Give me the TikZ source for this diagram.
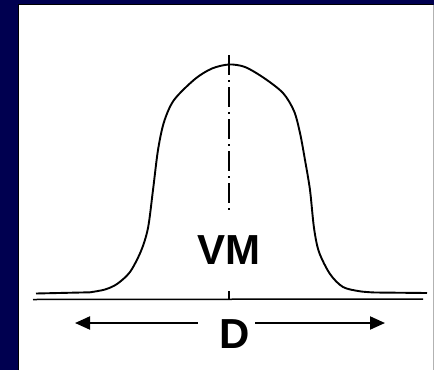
\documentclass[tikz,border=0pt]{standalone}
\usepackage{fontspec}
\setmainfont{Liberation Sans}
\usetikzlibrary{arrows.meta}
\definecolor{navy}{RGB}{0,0,80}
\tikzset{
  bigtext/.style={font=\fontsize{42}{42}\selectfont\bfseries, inner sep=2pt},
  centerline/.style={line width=1.3pt, dash pattern=on 20pt off 5pt on 2pt off 5pt},
  widtharrow/.style={line width=2pt, -{Triangle[length=15pt,width=13pt]}}
}
\begin{document}
\begin{tikzpicture}[x=1pt, y=-1pt]
  \useasboundingbox (0,0) rectangle (434,370);
  % Hintergrund
  \fill[navy] (0,0) rectangle (434,370);
  \fill[white] (19,5) rectangle (433,370);
  \draw[black, line width=1pt] (18.5,370) -- (18.5,4.5) -- (433,4.5);
  \draw[gray!60, line width=1pt] (433.5,5) -- (433.5,370);
  % Glockenkurve
  \draw[line width=1.9pt, line join=round]
    (36,293.5) -- (90,292.3)
    plot[smooth, tension=0.5] coordinates {(90,292.3) (105,289.5) (117,284) (130,272) (141,251)
      (148,228) (153,190) (158,150) (164,122) (174,100) (195,79) (212,68.5) (229,64.5)
      (245,67) (264,78) (283,93) (294,111) (300,133) (305,160) (310,190) (314,228) (319,252)
      (330,274) (343,287) (360,291.3) (375,292.5)}
    -- (427,293);
  % Grundlinie
  \draw[line width=1.5pt] (33,299.5) -- (423,299);
  \draw[line width=1.2pt] (229,291) -- (229,299);
  % Mittellinie
  \draw[centerline] (229,55) -- (229,214);
  % Beschriftungen
  \node[bigtext] (vm) at (229,250) {VM};
  \node[bigtext] (d) at (235,334) {D};
  \coordinate (dleft) at (75,323);
  \coordinate (dright) at (385,323);
  \draw[widtharrow] (d.west |- dleft) ++(-20pt,0) -- (dleft);
  \draw[widtharrow] (d.east |- dright) ++(3pt,0) -- (dright);
\end{tikzpicture}
\end{document}
